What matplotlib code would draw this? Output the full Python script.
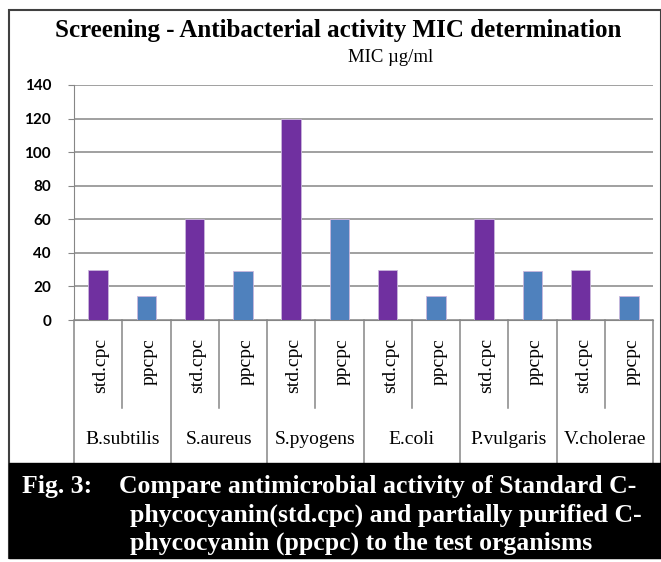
import matplotlib
matplotlib.use('Agg')
import matplotlib.pyplot as plt
from matplotlib.patches import Rectangle
from matplotlib.transforms import blended_transform_factory

# MIC values in ug/ml
organisms = ['B.subtilis', 'S.aureus', 'S.pyogens', 'E.coli', 'P.vulgaris', 'V.cholerae']
samples = ['std.cpc', 'ppcpc']
std_cpc = [30, 60, 120, 30, 60, 30]
ppcpc = [14.5, 29, 60, 14.5, 29, 14.5]
yticks = [0, 20, 40, 60, 80, 100, 120, 140]

W, H = 661, 562
fig = plt.figure(figsize=(W / 100, H / 100), dpi=100)

# plot area in pixels: x 74..653, y 85..320
ax = fig.add_axes([74 / W, (H - 320) / H, (653 - 74) / W, (320 - 85) / H])

grid_c = '#868686'
purple = '#7030A0'
blue = '#4F81BD'

xs, vals, cols = [], [], []
for g in range(len(organisms)):
    xs += [2 * g, 2 * g + 1]
    vals += [std_cpc[g], ppcpc[g]]
    cols += [purple, blue]

ax.bar(xs, vals, width=0.4, color=cols, edgecolor='#c9b6dc', linewidth=0.6, zorder=3)

ax.set_xlim(-0.5, 2 * len(organisms) - 0.5)
ax.set_ylim(0, 140)
ax.set_yticks(yticks)
ax.yaxis.grid(True, color=grid_c, linewidth=1.1, zorder=0)
ax.set_xticks([])
for s in ['top', 'right']:
    ax.spines[s].set_visible(False)
ax.spines['left'].set_color(grid_c)
ax.spines['bottom'].set_color(grid_c)
ax.tick_params(axis='y', length=4.5, color=grid_c, pad=12)
for lab in ax.get_yticklabels():
    lab.set_fontfamily('Lato')
    lab.set_fontweight('bold')
    lab.set_fontsize(11)

# two-level category axis drawn as a table below the plot
tr = blended_transform_factory(ax.transData, ax.transAxes)
def ay(py):
    return (320 - py) / 235.0

n = len(organisms)
for g in range(n + 1):
    ax.plot([2 * g - 0.5, 2 * g - 0.5], [0, ay(463)], color=grid_c, lw=1.1,
            transform=tr, clip_on=False)
for g in range(n):
    ax.plot([2 * g + 0.5, 2 * g + 0.5], [0, ay(408)], color=grid_c, lw=1.1,
            transform=tr, clip_on=False)
    for k, s in enumerate(samples):
        ax.text(2 * g + k + 0.06, ay(338), s, rotation=90, ha='center', va='top',
                transform=tr, fontsize=14, family='Liberation Serif')
    ax.text(2 * g + 0.5, ay(440), organisms[g], ha='center', va='center',
            transform=tr, fontsize=14, family='Liberation Serif')

# titles
fig.text(338 / W, 1 - 30 / H, 'Screening - Antibacterial activity MIC determination',
         ha='center', va='center', fontsize=18, fontweight='bold', family='Liberation Serif')
fig.text(391 / W, 1 - 58 / H, 'MIC \u00b5g/ml', ha='center', va='center',
         fontsize=13.5, family='Liberation Serif')

# outer frame and caption box
fig.patches.append(Rectangle((9 / W, 4 / H), (W - 9) / W, (H - 14) / H, transform=fig.transFigure,
                             fill=False, edgecolor='#404040', linewidth=1.5))
fig.patches.append(Rectangle((9 / W, 4 / H), (W - 9) / W, (558 - 463) / H, transform=fig.transFigure,
                             facecolor='black', edgecolor='black'))

cap_kw = dict(color='white', fontsize=18.5, fontweight='bold', family='Liberation Serif',
              va='center', ha='left')
fig.text(22 / W, 1 - 487 / H, 'Fig. 3:', **cap_kw)
fig.text(119 / W, 1 - 487 / H, 'Compare antimicrobial activity of Standard C-', **cap_kw)
fig.text(130 / W, 1 - 515 / H, 'phycocyanin(std.cpc) and partially purified C-', **cap_kw)
fig.text(130 / W, 1 - 543 / H, 'phycocyanin (ppcpc) to the test organisms', **cap_kw)

fig.savefig('out.png', dpi=100)
